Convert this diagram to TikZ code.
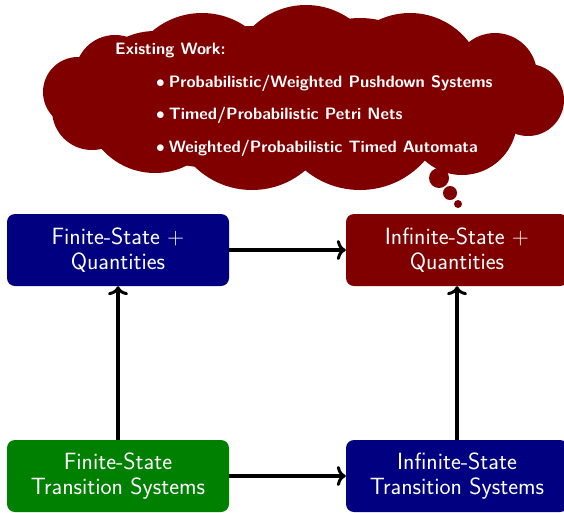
\documentclass[tikz,border=0pt]{standalone}
\usetikzlibrary{arrows.meta}
\definecolor{navy}{RGB}{0,0,128}
\definecolor{darkred}{RGB}{128,0,0}
\definecolor{darkgreen}{RGB}{0,128,0}
\tikzset{
  box/.style={rounded corners=8pt, minimum width=222pt, minimum height=72pt, text=white,
    align=center, font=\sffamily\fontsize{23.5}{25}\selectfont, inner sep=0pt},
  conn/.style={line width=4pt, -{To[length=9pt,width=20pt,line width=3pt]}},
  cloudtext/.style={text=white, font=\sffamily\bfseries\fontsize{16.5}{16}\selectfont, inner sep=0pt, anchor=base west},
  puff/.style={fill=darkred, draw=none},
}
\newcommand{\cloudbullet}{{\fontsize{19}{16}\selectfont$\bullet$}\hspace{4pt}}
\begin{document}
\begin{tikzpicture}[x=1pt,y=1pt]
\useasboundingbox (0,0) rectangle (564,-512);
% thought cloud
\fill[puff] (303,-100) ellipse [x radius=200, y radius=60];
\foreach \cx/\cy/\r in {78/92/35, 92/110/40, 115/75/40, 202/90/77, 306/81/76, 410/87/74,
    495/75/42, 528/100/36, 462/120/55, 360/104/86, 252/108/82, 155/102/71}
  \fill[puff] (\cx,-\cy) circle [radius=\r];
\fill[puff] (439,-178) circle [radius=10];
\fill[puff] (450,-193) circle [radius=7];
\fill[puff] (458,-204) circle [radius=4];
\node[cloudtext] (ew) at (115,-54) {Existing Work:};
\node[cloudtext] (i1) at (156,-87) {\cloudbullet Probabilistic/Weighted Pushdown Systems};
\node[cloudtext] (i2) at (156,-119) {\cloudbullet Timed/Probabilistic Petri Nets};
\node[cloudtext] (i3) at (156,-152) {\cloudbullet Weighted/Probabilistic Timed Automata};
% boxes
\node[box, fill=navy] (fq) at (118,-250) {Finite-State +\\Quantities};
\node[box, fill=darkred] (iq) at (457,-250) {Infinite-State +\\Quantities};
\node[box, fill=darkgreen] (ft) at (118,-476) {Finite-State\\Transition Systems};
\node[box, fill=navy] (it) at (457,-476) {Infinite-State\\Transition Systems};
\draw[conn] (fq) -- (iq);
\draw[conn] (ft) -- (it);
\draw[conn] (ft) -- (fq);
\draw[conn] (it) -- (iq);
\end{tikzpicture}
\end{document}
